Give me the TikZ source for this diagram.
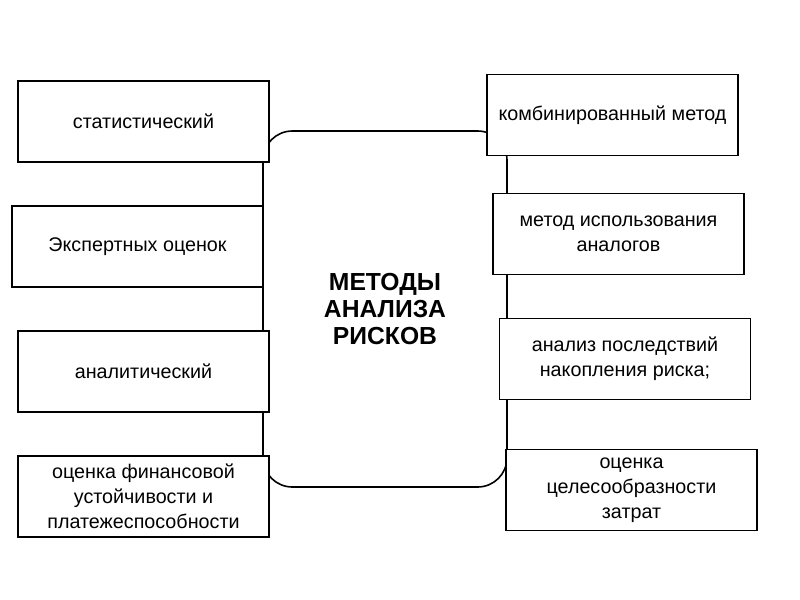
\documentclass[tikz,border=0pt]{standalone}
\usepackage{fontspec}
\setmainfont{Liberation Sans}
\usepackage{tikz}

\tikzset{
  method/.style={draw, line width=1.2pt, fill=white, minimum width=188pt,
    minimum height=60.5pt, align=center, inner sep=2pt,
    font=\fontsize{14.8}{18.8}\selectfont},
}

\begin{document}
\begin{tikzpicture}[x=0.75pt, y=-0.75pt]
  \useasboundingbox (0,0) rectangle (800,600);

  % Centre
  \node[draw, line width=1.2pt, rounded corners=22pt, minimum width=183pt,
    minimum height=267pt, align=center,
    font=\fontsize{18.5}{20.5}\selectfont\bfseries] (centre) at (385,309)
    {МЕТОДЫ\\АНАЛИЗА\\РИСКОВ};

  % Left column
  \node[method] (stat) at (143.5,121.5) {статистический};
  \node[method] (expert) at (137.5,246.5) {Экспертных оценок};
  \node[method] (analit) at (143.5,371.5) {аналитический};
  \node[method] (finans) at (143.5,496.5)
    {оценка финансовой\\устойчивости и\\платежеспособности};

  % Right column
  \node[method] (komb) at (612.5,115) {комбинированный метод};
  \node[method] (analog) at (618.5,234) {метод использования\\аналогов};
  \node[method] (posl) at (625,359) {анализ последствий\\накопления риска;};
  \node[method] (zatrat) at (631.5,490)
    {оценка\\целесообразности\\затрат};
\end{tikzpicture}
\end{document}
